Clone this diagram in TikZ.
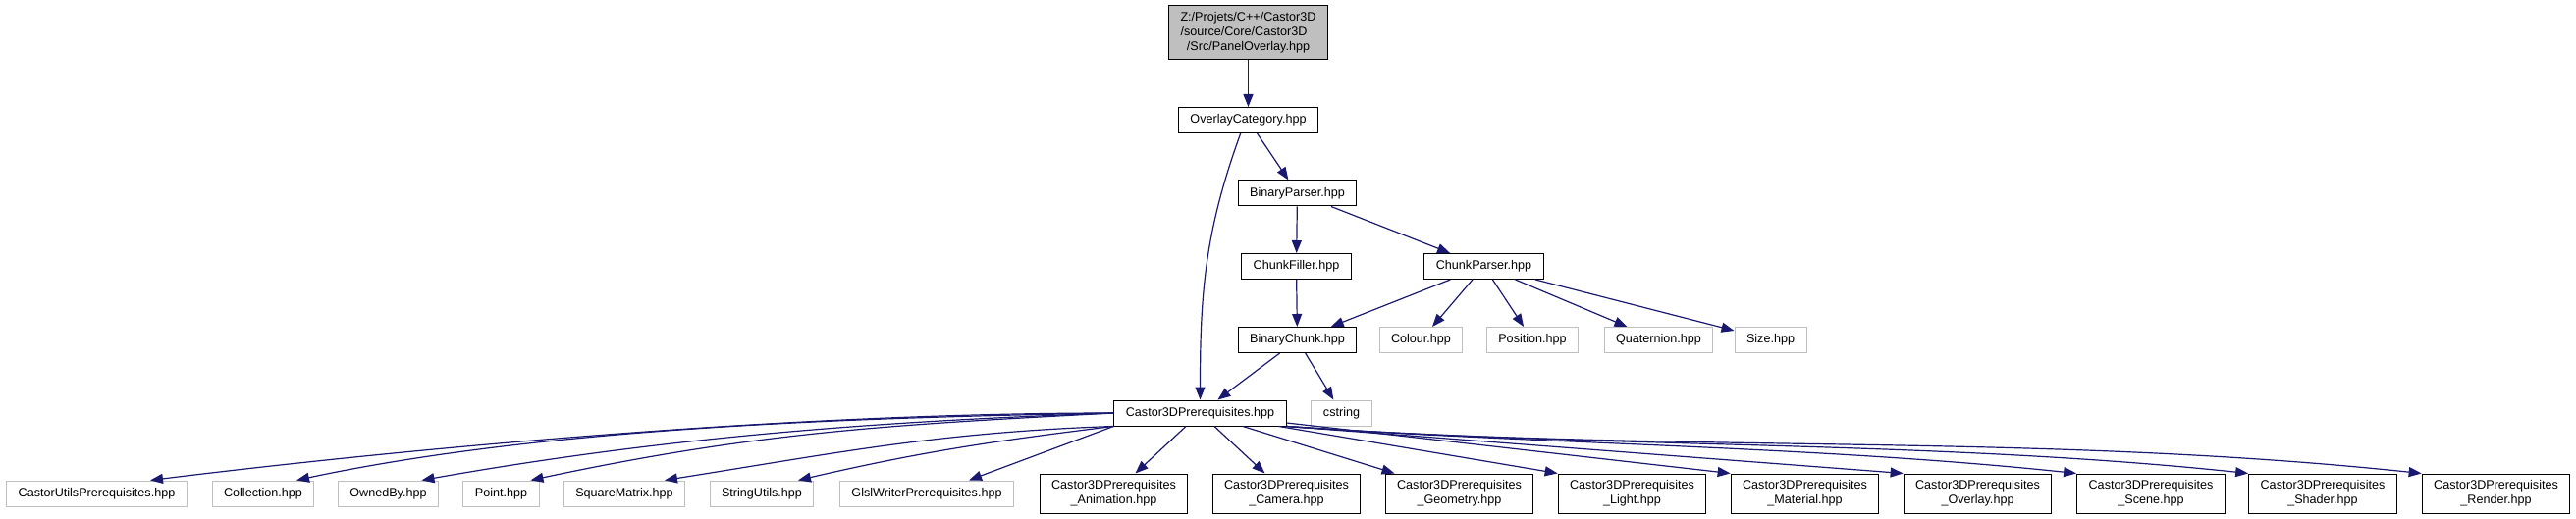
\documentclass[tikz,border=0pt]{standalone}
\usepackage{fontspec}
\setmainfont{Liberation Sans}
\usetikzlibrary{arrows.meta}
\definecolor{edgeblue}{HTML}{191970}
\definecolor{nodegray}{HTML}{BFBFBF}

\begin{document}
\begin{tikzpicture}[x=0.5pt,y=0.5pt]
\tikzset{
  filenode/.style={draw=black,fill=white,line width=0.5pt,minimum height=13pt,inner xsep=6pt,inner ysep=0pt,font=\fontsize{6.3}{7.5}\selectfont},
  extnode/.style={filenode,draw=nodegray},
  twoline/.style={filenode,minimum height=20pt,align=center},
  topnode/.style={filenode,fill=nodegray,minimum height=27.5pt},
  incl/.style={-{Triangle[length=6.5pt,width=5pt]},draw=edgeblue,line width=0.6pt}
}
\useasboundingbox (0,0) rectangle (2624,-529);
\node[topnode] (n_top) at (1271.5,-33.5) {\begin{tabular}{@{}l@{}}Z:/Projets/C++/Castor3D\\/source/Core/Castor3D\\\multicolumn{1}{@{}c@{}}{/Src/PanelOverlay.hpp}\end{tabular}};
\node[filenode] (n_ovc) at (1271.5,-122.5) {OverlayCategory.hpp};
\node[filenode] (n_bparser) at (1321.5,-197) {BinaryParser.hpp};
\node[filenode] (n_cfiller) at (1320.5,-271.5) {ChunkFiller.hpp};
\node[filenode] (n_cparser) at (1511.5,-271.5) {ChunkParser.hpp};
\node[filenode] (n_bchunk) at (1321.5,-346.5) {BinaryChunk.hpp};
\node[extnode] (n_colour) at (1447.5,-346.5) {Colour.hpp};
\node[extnode] (n_position) at (1561,-346.5) {Position.hpp};
\node[extnode] (n_quat) at (1689.5,-346.5) {Quaternion.hpp};
\node[extnode] (n_size) at (1803.5,-346.5) {Size.hpp};
\node[filenode] (n_c3d) at (1222.5,-421) {Castor3DPrerequisites.hpp};
\node[extnode] (n_cstring) at (1366.5,-421) {cstring};
% bottom row
\node[extnode] (n_cup) at (98.5,-503) {CastorUtilsPrerequisites.hpp};
\node[extnode] (n_coll) at (268,-503) {Collection.hpp};
\node[extnode] (n_owned) at (395.5,-503) {OwnedBy.hpp};
\node[extnode] (n_point) at (510.5,-503) {Point.hpp};
\node[extnode] (n_sqm) at (636,-503) {SquareMatrix.hpp};
\node[extnode] (n_strutil) at (776,-503) {StringUtils.hpp};
\node[extnode] (n_glsl) at (944,-503) {GlslWriterPrerequisites.hpp};
\node[twoline] (n_anim) at (1134.5,-503) {Castor3DPrerequisites\\\_Animation.hpp};
\node[twoline] (n_cam) at (1310.5,-503) {Castor3DPrerequisites\\\_Camera.hpp};
\node[twoline] (n_geom) at (1486.5,-503) {Castor3DPrerequisites\\\_Geometry.hpp};
\node[twoline] (n_light) at (1662.5,-503) {Castor3DPrerequisites\\\_Light.hpp};
\node[twoline] (n_mat) at (1838.5,-503) {Castor3DPrerequisites\\\_Material.hpp};
\node[twoline] (n_ovl) at (2014.5,-503) {Castor3DPrerequisites\\\_Overlay.hpp};
\node[twoline] (n_scene) at (2191,-503) {Castor3DPrerequisites\\\_Scene.hpp};
\node[twoline] (n_shader) at (2366,-503) {Castor3DPrerequisites\\\_Shader.hpp};
\node[twoline] (n_render) at (2542.5,-503) {Castor3DPrerequisites\\\_Render.hpp};
% upper part
\draw[incl] (n_top) -- (n_ovc);
\draw[incl] (n_ovc) -- (n_bparser);
\draw[incl] (n_ovc.240) to[out=-110,in=90] (n_c3d.north);
\draw[incl] (n_bparser) -- (n_cfiller);
\draw[incl] (n_bparser) -- (n_cparser);
\draw[incl] (n_cfiller) -- (n_bchunk);
\draw[incl] (n_cparser) -- (n_bchunk);
\draw[incl] (n_cparser) -- (n_colour);
\draw[incl] (n_cparser) -- (n_position);
\draw[incl] (n_cparser) -- (n_quat);
\draw[incl] (n_cparser) -- (n_size);
\draw[incl] (n_bchunk) -- (n_c3d);
\draw[incl] (n_bchunk) -- (n_cstring);
% fan out of Castor3DPrerequisites
\draw[incl] (n_c3d.west) to[out=180,in=7,looseness=0.8] ([xshift=27.25pt]n_cup.north);
\draw[incl] (n_c3d.west) to[out=181,in=12,looseness=0.8] ([xshift=17pt]n_coll.north);
\draw[incl] (n_c3d.west) to[out=182,in=10,looseness=0.9] ([xshift=17pt]n_owned.north);
\draw[incl] (n_c3d.west) to[out=183,in=12] ([xshift=15pt]n_point.north);
\draw[incl] (n_c3d.south west) to[out=182,in=9] ([xshift=20.5pt]n_sqm.north);
\draw[incl] (n_c3d.south west) to[out=187,in=13] ([xshift=18.5pt]n_strutil.north);
\draw[incl] (n_c3d.south west) -- ([xshift=21.5pt]n_glsl.north);
\draw[incl] (n_c3d) -- (n_anim);
\draw[incl] (n_c3d) -- (n_cam);
\draw[incl] (n_c3d) -- (n_geom);
\draw[incl] (n_c3d) -- (n_light.north west);
\draw[incl] (n_c3d) -- (n_mat.north west);
\draw[incl] (n_c3d.south east) -- (n_ovl.north west);
\draw[incl] (n_c3d.south east) to[out=-4,in=174,looseness=0.85] (n_scene.north west);
\draw[incl] (n_c3d.south east) to[out=-4,in=174,looseness=0.85] (n_shader.north west);
\draw[incl] (n_c3d.south east) to[out=-4,in=174,looseness=0.88] (n_render.north west);
\end{tikzpicture}
\end{document}
